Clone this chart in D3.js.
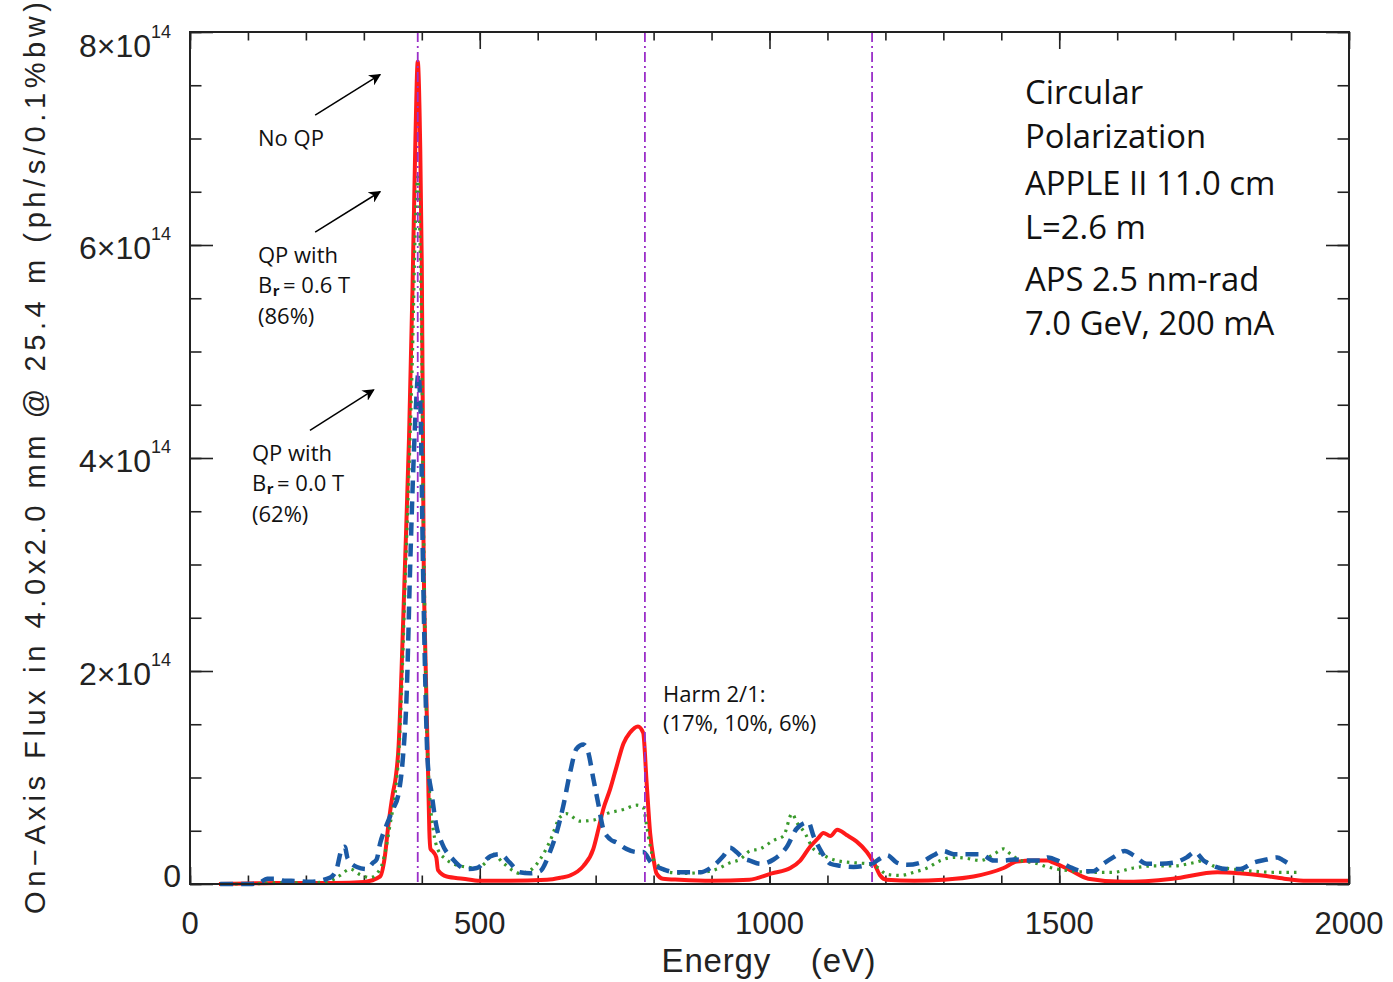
<!DOCTYPE html>
<html>
<head>
<meta charset="utf-8">
<script src="https://cdn.jsdelivr.net/npm/d3@7"></script>
<style>
  body { margin: 0; background: #fff; }
</style>
</head>
<body>
<script>
// flux values are in units of 1e14 ph/s/0.1%bw
const energyTicks = [0, 500, 1000, 1500, 2000]
const fluxTicks = [0, 2, 4, 6, 8]
const harmonics = [393, 785, 1177]

// No QP (solid red)
const noQP = [[50,0.0],[100,0.005],[150,0.01],[200,0.01],[250,0.01],[300,0.02],[328,0.07],[336,0.25],[342,0.54],
  [350,0.85],[355,1.0],[360,1.3],[365,2.0],[371,3.0],[378,4.2],[384,5.6],[389,7.0],[393,7.72],[397,7.0],
  [400,5.8],[402,4.2],[403,3.2],[406,2.2],[409,1.5],[411,1.0],[413,0.5],[415,0.33],[420,0.3],[425,0.25],
  [428,0.13],[443,0.07],[471,0.05],[500,0.03],[550,0.03],[616,0.04],[640,0.06],[656,0.08],[679,0.17],
  [696,0.33],[705,0.52],[713,0.7],[725,0.89],[736,1.1],[748,1.32],[759,1.42],[773,1.48],[782,1.42],
  [788,0.95],[794,0.48],[800,0.23],[805,0.1],[816,0.05],[845,0.04],[900,0.03],[965,0.04],[1004,0.1],
  [1036,0.15],[1053,0.22],[1070,0.35],[1084,0.43],[1093,0.48],[1105,0.45],[1117,0.51],[1133,0.46],
  [1150,0.40],[1168,0.30],[1180,0.2],[1191,0.08],[1202,0.04],[1250,0.03],[1300,0.04],[1352,0.07],
  [1404,0.15],[1427,0.21],[1456,0.22],[1480,0.22],[1490,0.2],[1519,0.13],[1550,0.05],[1611,0.02],
  [1696,0.05],[1773,0.11],[1811,0.1],[1850,0.08],[1888,0.05],[1927,0.03],[2000,0.03]]

// QP with Br = 0.6 T (dotted green)
const qpBr06 = [[52,0.0],[100,0.0],[150,0.01],[200,0.01],[236,0.02],[259,0.08],[276,0.14],[293,0.09],
  [311,0.06],[328,0.14],[338,0.33],[345,0.55],[355,0.9],[360,1.2],[365,1.8],[371,2.8],[378,3.9],[384,5.0],
  [389,6.2],[393,6.64],[397,6.0],[400,5.0],[402,3.8],[405,2.6],[408,1.6],[411,1.1],[414,0.8],[420,0.5],
  [428,0.32],[440,0.24],[454,0.19],[477,0.16],[495,0.15],[510,0.2],[523,0.28],[540,0.2],[569,0.1],
  [590,0.14],[604,0.23],[621,0.4],[639,0.63],[650,0.66],[673,0.59],[696,0.6],[719,0.66],[748,0.7],
  [771,0.74],[782,0.72],[788,0.55],[794,0.36],[800,0.23],[811,0.16],[828,0.11],[851,0.1],[886,0.11],
  [909,0.14],[932,0.2],[949,0.23],[966,0.31],[984,0.33],[1007,0.41],[1024,0.45],[1039,0.66],[1047,0.58],
  [1062,0.47],[1073,0.35],[1090,0.28],[1116,0.22],[1145,0.2],[1168,0.19],[1185,0.16],[1203,0.09],
  [1226,0.08],[1249,0.11],[1272,0.15],[1295,0.22],[1318,0.25],[1341,0.24],[1364,0.22],[1387,0.28],
  [1404,0.33],[1416,0.28],[1433,0.22],[1456,0.2],[1480,0.16],[1497,0.14],[1524,0.12],[1559,0.11],
  [1593,0.11],[1628,0.15],[1662,0.17],[1697,0.17],[1732,0.2],[1749,0.22],[1766,0.17],[1800,0.14],
  [1835,0.12],[1870,0.11],[1910,0.11]]

// QP with Br = 0.0 T (dashed blue)
const qpBr00 = [[52,0.0],[75,0.0],[104,0.0],[120,0.01],[133,0.05],[150,0.05],[164,0.03],[175,0.03],
  [207,0.02],[242,0.06],[253,0.14],[262,0.33],[267,0.35],[272,0.24],[288,0.16],[305,0.14],[316,0.2],
  [322,0.23],[328,0.38],[339,0.55],[350,0.7],[360,0.85],[367,1.16],[374,1.8],[380,3.0],[386,4.0],
  [390,4.5],[394,4.79],[398,4.4],[402,3.0],[406,1.9],[410,1.16],[417,0.85],[425,0.55],[435,0.38],
  [454,0.23],[477,0.14],[495,0.15],[518,0.26],[535,0.28],[552,0.2],[569,0.11],[587,0.1],[604,0.12],
  [621,0.3],[633,0.49],[644,0.73],[656,1.05],[667,1.27],[679,1.31],[687,1.24],[696,0.99],[705,0.74],
  [713,0.52],[725,0.42],[736,0.39],[753,0.33],[771,0.3],[782,0.3],[796,0.2],[816,0.14],[840,0.11],
  [880,0.11],[903,0.17],[920,0.26],[932,0.34],[943,0.3],[955,0.24],[966,0.22],[984,0.19],[1007,0.23],
  [1030,0.35],[1047,0.52],[1067,0.58],[1076,0.45],[1090,0.3],[1105,0.19],[1122,0.17],[1145,0.16],
  [1162,0.17],[1180,0.2],[1191,0.24],[1203,0.27],[1220,0.2],[1237,0.18],[1260,0.2],[1283,0.27],
  [1300,0.31],[1318,0.28],[1341,0.28],[1364,0.28],[1387,0.22],[1404,0.22],[1422,0.23],[1445,0.22],
  [1468,0.22],[1480,0.25],[1501,0.21],[1518,0.16],[1541,0.12],[1559,0.12],[1576,0.19],[1593,0.25],
  [1613,0.31],[1628,0.27],[1651,0.19],[1674,0.19],[1697,0.2],[1720,0.25],[1734,0.3],[1749,0.22],
  [1766,0.17],[1789,0.14],[1812,0.14],[1835,0.2],[1858,0.23],[1876,0.25],[1887,0.22],[1896,0.19]]

// arrows: [tailE, tailFlux, tipE, tipFlux]
const arrows = [[216, 7.22, 328, 7.60], [216, 6.12, 328, 6.50], [207, 4.26, 317, 4.64]]
const infoLines = ["Circular", "Polarization", "APPLE II 11.0 cm", "L=2.6 m", "APS 2.5 nm-rad", "7.0 GeV, 200 mA"]
const infoBaselines = [104, 148, 195, 239, 291, 335]

const width = 1393, height = 982
const plotLeft = 190, plotRight = 1349, plotTop = 32, plotBottom = 884

const x = d3.scaleLinear().domain([0, 2000]).range([plotLeft, plotRight])
const y = d3.scaleLinear().domain([0, 8]).range([plotBottom, plotTop])

const svg = d3.select("body").append("svg")
    .attr("width", width)
    .attr("height", height)

const axisFont = "'Liberation Sans', Arial, sans-serif"
const noteFont = "'Open Sans', 'Noto Sans', sans-serif"

// ticks, inward on all four sides (major + minor)
const xMajorLen = 17, xMinorLen = 8.5, yMajorLen = 23, yMinorLen = 11.5
const minorE = d3.range(0, 2001, 100)
const minorF = d3.range(0, 8.01, 0.5)

function tickStyle(g){
    g.select(".domain").remove()
    g.selectAll("line").attr("stroke", "#222").attr("stroke-width", 1.6)
    g.selectAll("text").remove()
}
svg.append("g").attr("transform", `translate(0,${plotBottom})`)
    .call(d3.axisBottom(x).tickValues(minorE).tickSize(-xMinorLen)).call(tickStyle)
svg.append("g").attr("transform", `translate(0,${plotBottom})`)
    .call(d3.axisBottom(x).tickValues(energyTicks).tickSize(-xMajorLen)).call(tickStyle)
svg.append("g").attr("transform", `translate(0,${plotTop})`)
    .call(d3.axisTop(x).tickValues(minorE).tickSize(-xMinorLen)).call(tickStyle)
svg.append("g").attr("transform", `translate(0,${plotTop})`)
    .call(d3.axisTop(x).tickValues(energyTicks).tickSize(-xMajorLen)).call(tickStyle)
svg.append("g").attr("transform", `translate(${plotLeft},0)`)
    .call(d3.axisLeft(y).tickValues(minorF).tickSize(-yMinorLen)).call(tickStyle)
svg.append("g").attr("transform", `translate(${plotLeft},0)`)
    .call(d3.axisLeft(y).tickValues(fluxTicks).tickSize(-yMajorLen)).call(tickStyle)
svg.append("g").attr("transform", `translate(${plotRight},0)`)
    .call(d3.axisRight(y).tickValues(minorF).tickSize(-yMinorLen)).call(tickStyle)
svg.append("g").attr("transform", `translate(${plotRight},0)`)
    .call(d3.axisRight(y).tickValues(fluxTicks).tickSize(-yMajorLen)).call(tickStyle)

// tick labels
svg.append("g").selectAll("text")
    .data(energyTicks)
    .join("text")
    .attr("x", d => x(d))
    .attr("y", 934)
    .attr("text-anchor", "middle")
    .attr("font-family", axisFont)
    .attr("font-size", 31)
    .attr("fill", "#222")
    .text(d => d)

const yLab = svg.append("g").selectAll("text")
    .data(fluxTicks)
    .join("text")
    .attr("x", d => d === 0 ? 181 : 171)
    .attr("y", d => Math.min(Math.max(y(d) + 14, 57), 887))
    .attr("text-anchor", "end")
    .attr("font-family", axisFont)
    .attr("font-size", 32)
    .attr("fill", "#222")
yLab.each(function(d){
    const t = d3.select(this)
    if (d === 0){ t.text("0"); return }
    t.append("tspan").text(d + "\u00d710")
    t.append("tspan").attr("font-size", 18).attr("dy", -19).text("14")
})

// axis titles
svg.append("text")
    .attr("transform", "translate(45,458) rotate(-90)")
    .attr("text-anchor", "middle")
    .attr("font-family", axisFont)
    .attr("font-size", 29)
    .attr("fill", "#222")
    .attr("textLength", 912)
    .attr("lengthAdjust", "spacing")
    .text("On\u2212Axis Flux in 4.0x2.0 mm @ 25.4 m (ph/s/0.1%bw)")

svg.append("text")
    .attr("x", 769)
    .attr("y", 972)
    .attr("text-anchor", "middle")
    .attr("font-family", axisFont)
    .attr("font-size", 33)
    .attr("letter-spacing", 0.8)
    .attr("fill", "#222")
    .style("white-space", "pre")
    .text("Energy    (eV)")

// curves
const line = d3.line()
    .x(d => x(d[0]))
    .y(d => y(d[1]))
    .curve(d3.curveMonotoneX)

const plot = svg.append("g")

plot.append("path")
    .attr("d", line(noQP))
    .attr("fill", "none")
    .attr("stroke", "#ff1a1a")
    .attr("stroke-width", 4)
    .attr("stroke-linejoin", "round")

plot.append("path")
    .attr("d", line(qpBr06))
    .attr("fill", "none")
    .attr("stroke", "#3a9a2c")
    .attr("stroke-width", 3.2)
    .attr("stroke-dasharray", "2.5,5")

plot.append("path")
    .attr("d", line(qpBr00))
    .attr("fill", "none")
    .attr("stroke", "#1b5aa5")
    .attr("stroke-width", 4.5)
    .attr("stroke-dasharray", "13,8")

// harmonic markers
svg.append("g").selectAll("line")
    .data(harmonics)
    .join("line")
    .attr("x1", d => x(d)).attr("x2", d => x(d))
    .attr("y1", y(8)).attr("y2", y(0))
    .attr("stroke", "#9a2fc8")
    .attr("stroke-width", 1.8)
    .attr("stroke-dasharray", "10,4,2,4")

// frame
svg.append("rect")
    .attr("x", plotLeft).attr("y", plotTop)
    .attr("width", plotRight - plotLeft).attr("height", plotBottom - plotTop)
    .attr("fill", "none")
    .attr("stroke", "#222")
    .attr("stroke-width", 2)

// arrows
const defs = svg.append("defs")
defs.append("marker")
    .attr("id", "head")
    .attr("viewBox", "0 0 10 10")
    .attr("refX", 9).attr("refY", 5)
    .attr("markerWidth", 12).attr("markerHeight", 12)
    .attr("markerUnits", "userSpaceOnUse")
    .attr("orient", "auto")
    .append("path")
    .attr("d", "M0,0 L10,5 L0,10 L3,5 Z")
    .attr("fill", "#000")

svg.append("g").selectAll("line")
    .data(arrows)
    .join("line")
    .attr("x1", d => x(d[0])).attr("y1", d => y(d[1]))
    .attr("x2", d => x(d[2])).attr("y2", d => y(d[3]))
    .attr("stroke", "#000")
    .attr("stroke-width", 1.5)
    .attr("marker-end", "url(#head)")

// annotations
function note(xp, yp, txt, size){
    return svg.append("text")
        .attr("x", xp).attr("y", yp)
        .attr("font-family", noteFont)
        .attr("font-size", size || 22)
        .attr("fill", "#111")
        .text(txt)
}
// B_r label: separate pieces so the subscript sits snugly
function brNote(xp, yp, val){
    const b = note(xp, yp, "B")
    const wb = b.node().getComputedTextLength()
    const r = note(xp + wb + 0.5, yp + 3, "r", 15).attr("font-weight", "bold")
    const wr = r.node().getComputedTextLength()
    note(xp + wb + wr + 4, yp, "= " + val + " T")
}
note(258, 146, "No QP")
note(258, 263, "QP with")
brNote(258, 293, "0.6")
note(258, 324, "(86%)")
note(252, 461, "QP with")
brNote(252, 491, "0.0")
note(252, 522, "(62%)")
note(663, 702, "Harm 2/1:")
note(663, 731, "(17%, 10%, 6%)")

svg.append("g").selectAll("text")
    .data(infoLines)
    .join("text")
    .attr("x", 1025)
    .attr("y", (d, i) => infoBaselines[i])
    .attr("font-family", noteFont)
    .attr("font-size", 32.8)
    .attr("fill", "#111")
    .text(d => d)
</script>
</body>
</html>
